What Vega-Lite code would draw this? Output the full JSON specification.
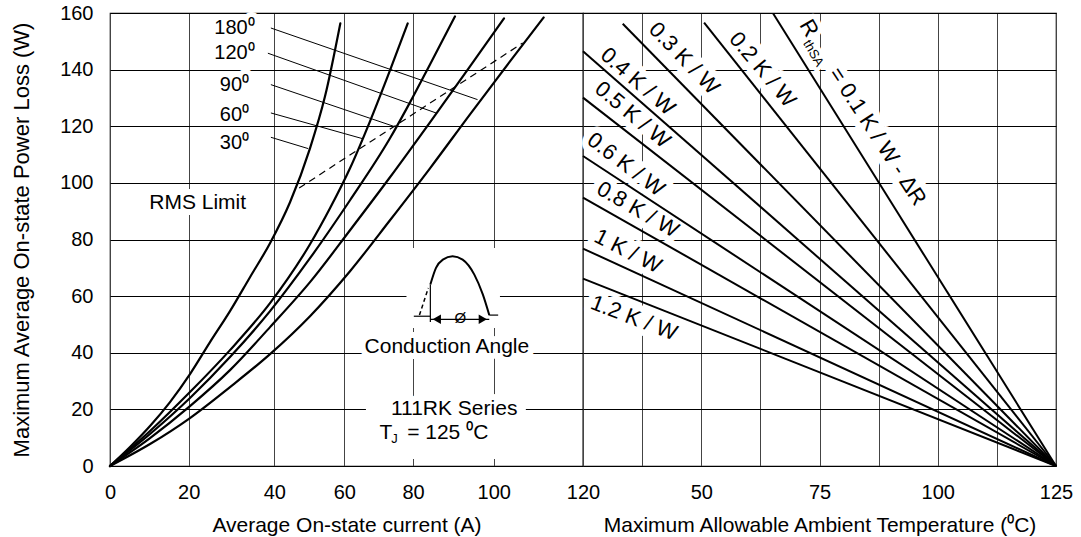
{
  "$schema": "https://vega.github.io/schema/vega-lite/v6.json",
  "background": "white",
  "padding": {"left": 10, "top": 2, "right": 0, "bottom": 0},
  "bounds": "flush",
  "spacing": 0,
  "datasets": {
    "curves": [
      {"c": "30", "I": 0, "P": 0}, {"c": "30", "I": 5.08, "P": 6.7}, {"c": "30", "I": 10.17, "P": 14.11}, {"c": "30", "I": 15.25, "P": 22.58}, {"c": "30", "I": 20.3, "P": 32.46}, {"c": "30", "I": 24.98, "P": 43.75}, {"c": "30", "I": 29.65, "P": 54.69}, {"c": "30", "I": 34.32, "P": 66.69}, {"c": "30", "I": 39.0, "P": 78.69}, {"c": "30", "I": 44.49, "P": 93.15}, {"c": "30", "I": 50.2, "P": 112.21}, {"c": "30", "I": 54.49, "P": 130.56}, {"c": "30", "I": 58.86, "P": 156.32},
      {"c": "60", "I": 0, "P": 0}, {"c": "60", "I": 10.17, "P": 12.35}, {"c": "60", "I": 20.3, "P": 26.11}, {"c": "60", "I": 29.65, "P": 40.93}, {"c": "60", "I": 39.0, "P": 57.52}, {"c": "60", "I": 50.2, "P": 78.33}, {"c": "60", "I": 55.91, "P": 91.04}, {"c": "60", "I": 61.66, "P": 105.15}, {"c": "60", "I": 67.48, "P": 121.74}, {"c": "60", "I": 73.3, "P": 139.73}, {"c": "60", "I": 78.46, "P": 156.32},
      {"c": "90", "I": 0, "P": 0}, {"c": "90", "I": 10.17, "P": 11.29}, {"c": "90", "I": 20.3, "P": 23.99}, {"c": "90", "I": 29.65, "P": 38.46}, {"c": "90", "I": 39.0, "P": 54.69}, {"c": "90", "I": 50.2, "P": 73.39}, {"c": "90", "I": 61.66, "P": 93.86}, {"c": "90", "I": 73.3, "P": 115.74}, {"c": "90", "I": 79.13, "P": 128.44}, {"c": "90", "I": 84.21, "P": 141.85}, {"c": "90", "I": 90.41, "P": 158.79},
      {"c": "120", "I": 0, "P": 0}, {"c": "120", "I": 10.17, "P": 9.88}, {"c": "120", "I": 20.3, "P": 21.17}, {"c": "120", "I": 29.65, "P": 33.87}, {"c": "120", "I": 39.0, "P": 49.05}, {"c": "120", "I": 50.2, "P": 64.93}, {"c": "120", "I": 61.66, "P": 83.27}, {"c": "120", "I": 73.3, "P": 101.98}, {"c": "120", "I": 84.21, "P": 121.38}, {"c": "120", "I": 94.13, "P": 141.14}, {"c": "120", "I": 102.31, "P": 158.08},
      {"c": "180", "I": 0, "P": 0}, {"c": "180", "I": 10.17, "P": 7.76}, {"c": "180", "I": 20.3, "P": 16.94}, {"c": "180", "I": 29.65, "P": 27.88}, {"c": "180", "I": 39.0, "P": 39.52}, {"c": "180", "I": 50.2, "P": 52.93}, {"c": "180", "I": 61.66, "P": 68.81}, {"c": "180", "I": 73.3, "P": 86.8}, {"c": "180", "I": 84.21, "P": 105.15}, {"c": "180", "I": 94.13, "P": 124.21}, {"c": "180", "I": 103.65, "P": 142.91}, {"c": "180", "I": 111.2, "P": 158.43}
    ],
    "leaders": [
      {"l": "180", "I": 39.2, "P": 154.7}, {"l": "180", "I": 96.0, "P": 129.4},
      {"l": "120", "I": 38.5, "P": 145.8}, {"l": "120", "I": 85.7, "P": 124.7},
      {"l": "90", "I": 39.2, "P": 134.7}, {"l": "90", "I": 75.3, "P": 119.6},
      {"l": "60", "I": 39.2, "P": 124.7}, {"l": "60", "I": 65.36, "P": 115.6},
      {"l": "30", "I": 39.2, "P": 116.1}, {"l": "30", "I": 49.7, "P": 112.1}
    ],
    "rms": [{"I": 47.1, "P": 98.2}, {"I": 106.5, "P": 149.4}],
    "deg": [
      {"I": 30.7, "P": 154.7, "t": "180⁰"},
      {"I": 30.7, "P": 145.8, "t": "120⁰"},
      {"I": 30.7, "P": 134.7, "t": "90⁰"},
      {"I": 30.7, "P": 124.1, "t": "60⁰"},
      {"I": 30.7, "P": 114.1, "t": "30⁰"}
    ],
    "ann": [
      {"I": 22.1, "P": 92.9, "t": "RMS Limit"},
      {"I": 88.4, "P": 42.0, "t": "Conduction Angle"},
      {"I": 90.2, "P": 20.0, "t": "111RK Series"}
    ],
    "tjT": [{"I": 72.1, "P": 11.5, "t": "T"}],
    "tjJ": [{"I": 74.6, "P": 9.6, "t": "J"}],
    "tjR": [{"I": 78.3, "P": 11.5, "t": "= 125 ⁰C"}],
    "boxes": [
      {"I": 78.1, "I2": 101.4, "P": 48.7, "P2": 77.0},
      {"I": 66.3, "I2": 107.2, "P": 2.5, "P2": 23.6}
    ],
    "arc": [
      {"I": 84.3, "P": 64.1}, {"I": 85.7, "P": 70.0}, {"I": 87.4, "P": 72.9}, {"I": 89.8, "P": 74.1}, {"I": 92.3, "P": 72.9}, {"I": 95.2, "P": 67.6}, {"I": 97.3, "P": 60.6}, {"I": 98.9, "P": 53.3}
    ],
    "rise": [{"I": 81.6, "P": 53.3}, {"I": 83.8, "P": 62.9}],
    "segs": [
      {"I": 84.3, "I2": 84.3, "P": 50.9, "P2": 64.1},
      {"I": 80.2, "I2": 84.3, "P": 52.9, "P2": 52.9},
      {"I": 98.9, "I2": 101.0, "P": 53.3, "P2": 53.3},
      {"I": 84.3, "I2": 98.9, "P": 51.8, "P2": 51.8}
    ],
    "arrowL": [{"I": 85.9, "P": 51.8}],
    "arrowR": [{"I": 97.3, "P": 51.8}],
    "phi": [{"I": 91.7, "P": 52.1, "t": "Ø"}],
    "rlines": [
      {"r": "0.1", "T": 65.2, "P": 159.8}, {"r": "0.1", "T": 125, "P": 0},
      {"r": "0.2", "T": 50.6, "P": 156.6}, {"r": "0.2", "T": 125, "P": 0},
      {"r": "0.3", "T": 33.4, "P": 156.2}, {"r": "0.3", "T": 125, "P": 0},
      {"r": "0.4", "T": 25, "P": 146.5}, {"r": "0.4", "T": 125, "P": 0},
      {"r": "0.5", "T": 25, "P": 130.1}, {"r": "0.5", "T": 125, "P": 0},
      {"r": "0.6", "T": 25, "P": 109.5}, {"r": "0.6", "T": 125, "P": 0},
      {"r": "0.8", "T": 25, "P": 94.8}, {"r": "0.8", "T": 125, "P": 0},
      {"r": "1", "T": 25, "P": 76.8}, {"r": "1", "T": 125, "P": 0},
      {"r": "1.2", "T": 25, "P": 66.2}, {"r": "1.2", "T": 125, "P": 0}
    ],
    "l03": [{"T": 46.4, "P": 144.0, "t": "0.3 K / W"}],
    "l02": [{"T": 63.0, "P": 140.0, "t": "0.2 K / W"}],
    "l04": [{"T": 36.6, "P": 135.8, "t": "0.4 K / W"}],
    "l05": [{"T": 35.5, "P": 124.1, "t": "0.5 K / W"}],
    "l06": [{"T": 34.1, "P": 106.5, "t": "0.6 K / W"}],
    "l08": [{"T": 36.6, "P": 90.6, "t": "0.8 K / W"}],
    "l10": [{"T": 34.5, "P": 75.9, "t": "1 K / W"}],
    "l12": [{"T": 35.8, "P": 52.3, "t": "1.2 K / W"}],
    "lR": [{"T": 72.8, "P": 154.7, "t": "R"}],
    "lth": [{"T": 73.7, "P": 145.8, "t": "thSA"}],
    "leq": [{"T": 87.3, "P": 116.4, "t": "= 0.1 K / W - ΔR"}]
  },
  "hconcat": [
    {
      "width": 473,
      "height": 453,
      "encoding": {
        "x": {
          "field": "I", "type": "quantitative",
          "scale": {"domain": [0, 20, 40, 60, 80, 100, 120], "range": [0, 78.7, 164.3, 234.3, 303, 383.7, 473], "nice": false, "zero": false},
          "axis": {"values": [0, 20, 40, 60, 80, 100, 120], "grid": true, "gridColor": "#444", "labelFlush": false, "labelPadding": 16, "titlePadding": 12, "title": "Average On-state current (A)"}
        },
        "y": {
          "field": "P", "type": "quantitative",
          "scale": {"domain": [0, 160], "nice": false, "zero": false},
          "axis": {"values": [0, 20, 40, 60, 80, 100, 120, 140, 160], "grid": true, "gridColor": "#000", "labelPadding": 17, "titlePadding": 26, "titleFontSize": 22, "title": "Maximum Average On-state Power Loss (W)"}
        }
      },
      "layer": [
        {"data": {"name": "boxes"}, "mark": {"type": "rect", "fill": "white", "stroke": null}, "encoding": {"x2": {"field": "I2"}, "y2": {"field": "P2"}}},
        {"data": {"name": "deg"}, "mark": {"type": "text", "font": "Liberation Sans", "fontSize": 20, "align": "center", "baseline": "middle", "fill": "white", "stroke": "white", "strokeWidth": 10, "strokeJoin": "round"}, "encoding": {"text": {"field": "t"}}},
        {"data": {"name": "ann"}, "mark": {"type": "text", "font": "Liberation Sans", "fontSize": 21, "align": "center", "baseline": "middle", "fill": "white", "stroke": "white", "strokeWidth": 12, "strokeJoin": "round"}, "encoding": {"text": {"field": "t"}}},
        {"data": {"name": "curves"}, "mark": {"type": "line", "color": "#000", "strokeWidth": 2.2, "interpolate": "monotone", "strokeCap": "round"}, "encoding": {"detail": {"field": "c"}}},
        {"data": {"name": "leaders"}, "mark": {"type": "line", "color": "#000", "strokeWidth": 1}, "encoding": {"detail": {"field": "l"}}},
        {"data": {"name": "rms"}, "mark": {"type": "line", "color": "#000", "strokeWidth": 1.2, "strokeDash": [7, 5]}, "encoding": {}},
        {"data": {"name": "arc"}, "mark": {"type": "line", "color": "#000", "strokeWidth": 2, "interpolate": "monotone"}, "encoding": {}},
        {"data": {"name": "rise"}, "mark": {"type": "line", "color": "#000", "strokeWidth": 1.5, "strokeDash": [4, 3]}, "encoding": {}},
        {"data": {"name": "segs"}, "mark": {"type": "rule", "color": "#000", "strokeWidth": 1.2}, "encoding": {"x2": {"field": "I2"}, "y2": {"field": "P2"}}},
        {"data": {"name": "arrowL"}, "mark": {"type": "point", "shape": "triangle-left", "filled": true, "color": "#000", "size": 90, "opacity": 1}, "encoding": {}},
        {"data": {"name": "arrowR"}, "mark": {"type": "point", "shape": "triangle-right", "filled": true, "color": "#000", "size": 90, "opacity": 1}, "encoding": {}},
        {"data": {"name": "phi"}, "mark": {"type": "text", "font": "Liberation Sans", "fontSize": 15, "align": "center", "baseline": "middle", "color": "#000"}, "encoding": {"text": {"field": "t"}}},
        {"data": {"name": "deg"}, "mark": {"type": "text", "font": "Liberation Sans", "fontSize": 20, "align": "center", "baseline": "middle", "color": "#000"}, "encoding": {"text": {"field": "t"}}},
        {"data": {"name": "ann"}, "mark": {"type": "text", "font": "Liberation Sans", "fontSize": 21, "align": "center", "baseline": "middle", "color": "#000"}, "encoding": {"text": {"field": "t"}}},
        {"data": {"name": "tjT"}, "mark": {"type": "text", "font": "Liberation Sans", "fontSize": 21, "align": "center", "baseline": "middle", "color": "#000"}, "encoding": {"text": {"field": "t"}}},
        {"data": {"name": "tjJ"}, "mark": {"type": "text", "font": "Liberation Sans", "fontSize": 13, "align": "center", "baseline": "middle", "color": "#000"}, "encoding": {"text": {"field": "t"}}},
        {"data": {"name": "tjR"}, "mark": {"type": "text", "font": "Liberation Sans", "fontSize": 21, "align": "left", "baseline": "middle", "color": "#000"}, "encoding": {"text": {"field": "t"}}}
      ]
    },
    {
      "width": 473,
      "height": 453,
      "encoding": {
        "x": {
          "field": "T", "type": "quantitative",
          "scale": {"domain": [25, 125], "nice": false, "zero": false},
          "axis": {"values": [25, 37.5, 50, 62.5, 75, 87.5, 100, 112.5, 125], "labelExpr": "(datum.value % 25 == 0 && datum.value > 25) ? datum.label : ''", "grid": true, "gridColor": "#444", "labelFlush": false, "labelPadding": 16, "titlePadding": 12, "title": "Maximum Allowable Ambient Temperature (⁰C)"}
        },
        "y": {
          "field": "P", "type": "quantitative",
          "scale": {"domain": [0, 160], "nice": false, "zero": false},
          "axis": {"values": [0, 20, 40, 60, 80, 100, 120, 140, 160], "grid": true, "gridColor": "#000", "labels": false, "title": null}
        }
      },
      "layer": [
        {"data": {"name": "l03"}, "mark": {"type": "text", "font": "Liberation Sans", "fontSize": 22, "angle": 46, "align": "center", "baseline": "middle", "fill": "white", "stroke": "white", "strokeWidth": 13, "strokeJoin": "round"}, "encoding": {"text": {"field": "t"}}},
        {"data": {"name": "l02"}, "mark": {"type": "text", "font": "Liberation Sans", "fontSize": 22, "angle": 50, "align": "center", "baseline": "middle", "fill": "white", "stroke": "white", "strokeWidth": 13, "strokeJoin": "round"}, "encoding": {"text": {"field": "t"}}},
        {"data": {"name": "l04"}, "mark": {"type": "text", "font": "Liberation Sans", "fontSize": 22, "angle": 41, "align": "center", "baseline": "middle", "fill": "white", "stroke": "white", "strokeWidth": 13, "strokeJoin": "round"}, "encoding": {"text": {"field": "t"}}},
        {"data": {"name": "l05"}, "mark": {"type": "text", "font": "Liberation Sans", "fontSize": 22, "angle": 40, "align": "center", "baseline": "middle", "fill": "white", "stroke": "white", "strokeWidth": 13, "strokeJoin": "round"}, "encoding": {"text": {"field": "t"}}},
        {"data": {"name": "l06"}, "mark": {"type": "text", "font": "Liberation Sans", "fontSize": 22, "angle": 37, "align": "center", "baseline": "middle", "fill": "white", "stroke": "white", "strokeWidth": 13, "strokeJoin": "round"}, "encoding": {"text": {"field": "t"}}},
        {"data": {"name": "l08"}, "mark": {"type": "text", "font": "Liberation Sans", "fontSize": 22, "angle": 30, "align": "center", "baseline": "middle", "fill": "white", "stroke": "white", "strokeWidth": 13, "strokeJoin": "round"}, "encoding": {"text": {"field": "t"}}},
        {"data": {"name": "l10"}, "mark": {"type": "text", "font": "Liberation Sans", "fontSize": 22, "angle": 27, "align": "center", "baseline": "middle", "fill": "white", "stroke": "white", "strokeWidth": 13, "strokeJoin": "round"}, "encoding": {"text": {"field": "t"}}},
        {"data": {"name": "l12"}, "mark": {"type": "text", "font": "Liberation Sans", "fontSize": 22, "angle": 21, "align": "center", "baseline": "middle", "fill": "white", "stroke": "white", "strokeWidth": 13, "strokeJoin": "round"}, "encoding": {"text": {"field": "t"}}},
        {"data": {"name": "lR"}, "mark": {"type": "text", "font": "Liberation Sans", "fontSize": 22, "angle": 60, "align": "center", "baseline": "middle", "fill": "white", "stroke": "white", "strokeWidth": 10, "strokeJoin": "round"}, "encoding": {"text": {"field": "t"}}},
        {"data": {"name": "lth"}, "mark": {"type": "text", "font": "Liberation Sans", "fontSize": 13, "angle": 60, "align": "center", "baseline": "middle", "fill": "white", "stroke": "white", "strokeWidth": 8, "strokeJoin": "round"}, "encoding": {"text": {"field": "t"}}},
        {"data": {"name": "leq"}, "mark": {"type": "text", "font": "Liberation Sans", "fontSize": 22, "angle": 57, "align": "center", "baseline": "middle", "fill": "white", "stroke": "white", "strokeWidth": 13, "strokeJoin": "round"}, "encoding": {"text": {"field": "t"}}},
        {"data": {"name": "rlines"}, "mark": {"type": "line", "color": "#000", "strokeWidth": 2}, "encoding": {"detail": {"field": "r"}}},
        {"data": {"name": "l03"}, "mark": {"type": "text", "font": "Liberation Sans", "fontSize": 22, "angle": 46, "align": "center", "baseline": "middle", "color": "#000"}, "encoding": {"text": {"field": "t"}}},
        {"data": {"name": "l02"}, "mark": {"type": "text", "font": "Liberation Sans", "fontSize": 22, "angle": 50, "align": "center", "baseline": "middle", "color": "#000"}, "encoding": {"text": {"field": "t"}}},
        {"data": {"name": "l04"}, "mark": {"type": "text", "font": "Liberation Sans", "fontSize": 22, "angle": 41, "align": "center", "baseline": "middle", "color": "#000"}, "encoding": {"text": {"field": "t"}}},
        {"data": {"name": "l05"}, "mark": {"type": "text", "font": "Liberation Sans", "fontSize": 22, "angle": 40, "align": "center", "baseline": "middle", "color": "#000"}, "encoding": {"text": {"field": "t"}}},
        {"data": {"name": "l06"}, "mark": {"type": "text", "font": "Liberation Sans", "fontSize": 22, "angle": 37, "align": "center", "baseline": "middle", "color": "#000"}, "encoding": {"text": {"field": "t"}}},
        {"data": {"name": "l08"}, "mark": {"type": "text", "font": "Liberation Sans", "fontSize": 22, "angle": 30, "align": "center", "baseline": "middle", "color": "#000"}, "encoding": {"text": {"field": "t"}}},
        {"data": {"name": "l10"}, "mark": {"type": "text", "font": "Liberation Sans", "fontSize": 22, "angle": 27, "align": "center", "baseline": "middle", "color": "#000"}, "encoding": {"text": {"field": "t"}}},
        {"data": {"name": "l12"}, "mark": {"type": "text", "font": "Liberation Sans", "fontSize": 22, "angle": 21, "align": "center", "baseline": "middle", "color": "#000"}, "encoding": {"text": {"field": "t"}}},
        {"data": {"name": "lR"}, "mark": {"type": "text", "font": "Liberation Sans", "fontSize": 22, "angle": 60, "align": "center", "baseline": "middle", "color": "#000"}, "encoding": {"text": {"field": "t"}}},
        {"data": {"name": "lth"}, "mark": {"type": "text", "font": "Liberation Sans", "fontSize": 13, "angle": 60, "align": "center", "baseline": "middle", "color": "#000"}, "encoding": {"text": {"field": "t"}}},
        {"data": {"name": "leq"}, "mark": {"type": "text", "font": "Liberation Sans", "fontSize": 22, "angle": 57, "align": "center", "baseline": "middle", "color": "#000"}, "encoding": {"text": {"field": "t"}}}
      ]
    }
  ],
  "config": {
    "view": {"stroke": "#000", "strokeWidth": 1.2},
    "axis": {
      "domain": false, "ticks": false, "gridOpacity": 1, "gridWidth": 1,
      "labelFont": "Liberation Sans", "labelFontSize": 20, "labelColor": "#000",
      "titleFont": "Liberation Sans", "titleFontSize": 21, "titleFontWeight": "normal", "titleColor": "#000"
    }
  }
}
